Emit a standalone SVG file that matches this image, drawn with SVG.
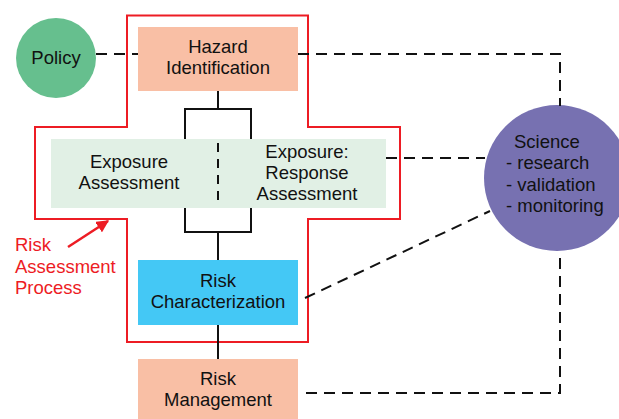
<svg xmlns="http://www.w3.org/2000/svg" width="619" height="419" viewBox="0 0 619 419">
<style>
text{font-family:"Liberation Sans",Arial,sans-serif;font-size:18.5px;fill:#111}
.c{text-anchor:middle}
.solid{fill:none;stroke:#111;stroke-width:2}
.dash{fill:none;stroke:#111;stroke-width:2;stroke-dasharray:11 7}
.red{fill:#ed1c24}
</style>
<defs>
<marker id="ah" viewBox="0 0 10 10" refX="9" refY="5" markerWidth="5" markerHeight="5" orient="auto" markerUnits="strokeWidth">
<path d="M0,0 L10,5 L0,10 z" fill="#ed1c24"/>
</marker>
</defs>
<rect width="619" height="419" fill="#fff"/>
<g id="risk-assessment-process">
<path d="M127,15.5 H308 V127 H400 V219 H308 V342 H127 V219 H35 V127 H127 Z" fill="none" stroke="#ed1c24" stroke-width="2"/>
</g>
<g id="policy">
<circle cx="56" cy="58" r="40" fill="#66bf8e"/>
<text class="c" x="56" y="64">Policy</text>
</g>
<g id="hazard-identification">
<rect x="138" y="27" width="160" height="64" fill="#f9bfa5"/>
<text class="c" x="218" y="53">Hazard</text>
<text class="c" x="218" y="74">Identification</text>
</g>
<g id="exposure">
<rect x="51" y="139" width="335" height="69" fill="#e1f0e5"/>
<text class="c" x="129" y="168">Exposure</text>
<text class="c" x="129" y="189">Assessment</text>
<text class="c" x="307" y="158">Exposure:</text>
<text class="c" x="307" y="179">Response</text>
<text class="c" x="307" y="200">Assessment</text>
</g>
<g id="risk-characterization">
<rect x="138" y="260" width="160" height="65" fill="#44c8f5"/>
<text class="c" x="218" y="287">Risk</text>
<text class="c" x="218" y="308">Characterization</text>
</g>
<g id="risk-management">
<rect x="138" y="359" width="160" height="60" fill="#f9bfa5"/>
<text class="c" x="218" y="385">Risk</text>
<text class="c" x="218" y="406">Management</text>
</g>
<g id="science">
<circle cx="557" cy="178" r="73" fill="#7771b1"/>
<text x="514" y="148">Science</text>
<text x="506" y="169">- research</text>
<text x="506" y="191">- validation</text>
<text x="506" y="212">- monitoring</text>
</g>
<g id="connectors">
<path class="dash" d="M96,54 H138"/>
<path class="dash" d="M298,54 H560 V106"/>
<path class="dash" d="M386,158 H485"/>
<path class="dash" d="M305,298 L490,211"/>
<path class="dash" d="M306,393 H560 V251"/>
<path class="solid" d="M218,91 V109 M185,139 V109 H251 V139 M185,208 V232 H251 V208 M218,232 V260 M218,325 V359"/>
<path fill="none" stroke="#111" stroke-width="2" stroke-dasharray="9 7" d="M218,143 V200"/>
</g>
<g id="label">
<text class="red" x="15" y="251">Risk</text>
<text class="red" x="15" y="273">Assessment</text>
<text class="red" x="15" y="294">Process</text>
<path d="M68,247 L108,221" stroke="#ed1c24" stroke-width="2.5" fill="none" marker-end="url(#ah)"/>
</g>
</svg>
